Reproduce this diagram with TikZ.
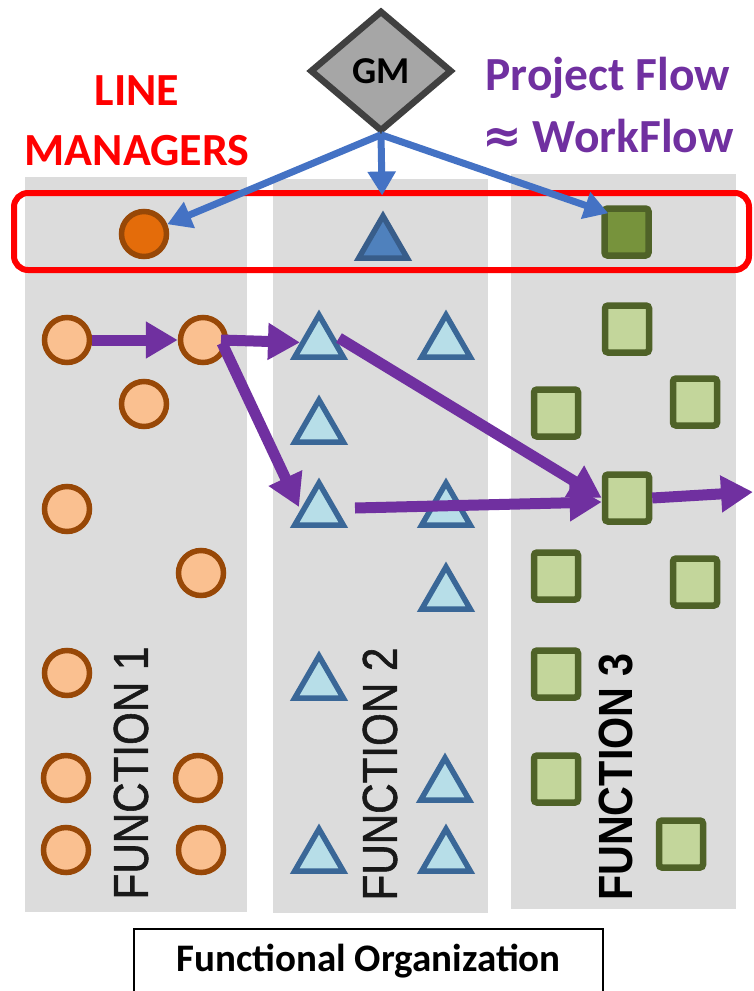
\documentclass[tikz,border=0pt]{standalone}
\usepackage{fontspec}
\usepackage{graphicx}
\usetikzlibrary{shapes.geometric,arrows.meta,calc}
\newfontfamily\calib{Carlito}
\newfontfamily\arialf{Liberation Sans}
\newfontfamily\arialmed[FakeBold=1.3]{Liberation Sans}
\newfontfamily\symf{DejaVu Sans}

\definecolor{colgray}{HTML}{DCDCDC}
\definecolor{ordark}{HTML}{E46C0A}
\definecolor{orlight}{HTML}{FAC090}
\definecolor{orborder}{HTML}{984807}
\definecolor{bdark}{HTML}{4F81BD}
\definecolor{bdarkborder}{HTML}{385D8A}
\definecolor{blight}{HTML}{B7DEE8}
\definecolor{bborder}{HTML}{3A6797}
\definecolor{gdark}{HTML}{77933C}
\definecolor{glight}{HTML}{C3D69B}
\definecolor{gborder}{HTML}{4F6228}
\definecolor{flowpurple}{HTML}{7030A0}
\definecolor{arrowblue}{HTML}{4472C4}
\definecolor{gmfill}{HTML}{A6A6A6}
\definecolor{gmborder}{HTML}{404040}

\tikzset{
  colbg/.style={fill=colgray, draw=none},
  worker/.style={circle, fill=orlight, draw=orborder, line width=5.5pt, minimum size=45pt, inner sep=0pt},
  tri/.style={regular polygon, regular polygon sides=3, fill=blight, draw=bborder, line width=5.5pt, minimum size=56pt, inner sep=0pt},
  sq/.style={rectangle, rounded corners=3pt, fill=glight, draw=gborder, line width=6.5pt, minimum width=44pt, minimum height=47pt, inner sep=0pt},
  flow/.style={draw=flowpurple, line width=11pt, -{Triangle[length=32pt,width=35pt]}},
  mgr/.style={draw=arrowblue, line width=7pt, -{Triangle[length=24pt,width=27pt]}},
  funclabel/.style={rotate=90, inner sep=0pt, text=black!90, font=\arialmed\fontsize{49}{49}\selectfont},
}

\begin{document}
\begin{tikzpicture}[x=1pt,y=-1pt]
\useasboundingbox (0,0) rectangle (753,991);

% function columns
\fill[colbg] (25,177) rectangle (247,912);
\fill[colbg] (273,179) rectangle (488,913);
\fill[colbg] (511,174) rectangle (736,909);

% line-manager band
\draw[red, line width=6pt, rounded corners=14pt] (14,193) rectangle (749,270);

% general manager
\node[diamond, draw=gmborder, fill=gmfill, line width=6.5pt, minimum width=142pt, minimum height=121pt, inner sep=0pt,
      font=\calib\bfseries\fontsize{38}{38}\selectfont] (GM) at (381,71) {GM};

% line managers
\node[worker, fill=ordark] (mC) at (144,234) {};
\node[tri, fill=bdark, draw=bdarkborder] (mT) at (383,244) {};
\node[sq, fill=gdark] (mS) at (626.5,232) {};

% function 1 staff
\node[worker] (c1) at (67,340) {};
\node[worker] (c2) at (203,340) {};
\node[worker] (c3) at (144,404) {};
\node[worker] (c4) at (67,509) {};
\node[worker] (c5) at (201,573) {};
\node[worker] (c6) at (67,673) {};
\node[worker] (c7) at (66,778) {};
\node[worker] (c8) at (198,778) {};
\node[worker] (c9) at (66,850) {};
\node[worker] (c10) at (201,850) {};

% function 2 staff
\node[tri] (t1) at (319,343) {};
\node[tri] (t2) at (446,343) {};
\node[tri] (t3) at (319,428) {};
\node[tri] (t4) at (319,511) {};
\node[tri] (t5) at (446,511) {};
\node[tri] (t6) at (446,595) {};
\node[tri] (t7) at (319,684) {};
\node[tri] (t8) at (445,786) {};
\node[tri] (t9) at (319,857) {};
\node[tri] (t10) at (446,857) {};

% function 3 staff
\node[sq] (s1) at (627,329) {};
\node[sq] (s2) at (695,402) {};
\node[sq] (s3) at (556,413) {};
\node[sq] (s4) at (627,498) {};
\node[sq] (s5) at (556,576) {};
\node[sq] (s6) at (695,582) {};
\node[sq] (s7) at (556,674) {};
\node[sq] (s8) at (556,779) {};
\node[sq] (s9) at (681,844) {};

% function labels
\node[funclabel] (f1) at (131,773) {\scalebox{0.86}[1]{FUNCTION 1}};
\node[funclabel] (f2) at (380,774) {\scalebox{0.86}[1]{FUNCTION 2}};
\node[funclabel, text=black, font=\arialf\bfseries\fontsize{48}{48}\selectfont] (f3) at (616,777) {\scalebox{0.86}[1]{FUNCTION 3}};

% command lines from the GM
\draw[mgr] (GM.south) -- (mC);
\draw[mgr, shorten >=16pt] (GM.south) -- (mT);
\draw[mgr] (GM.south) -- ($(mS.north west)+(7,8)$);

% project flow
\coordinate (exit) at (753,492);
\draw[flow] (c1) -- (c2);
\draw[flow] ($(c2.center)+(18,0)$) -- (t1);
\draw[flow] ($(c2.center)+(19,3)$) -- ($(t4.center)+(-20,-4)$);
\draw[flow] ($(t1.center)+(20,-5)$) -- (s4.west);
\draw[flow] ($(t4.center)+(36,-3)$) -- ($(s4.west)+(0,4)$);
\draw[flow] (s4.east) -- (exit);

% titles
\node[anchor=north, inner sep=0pt, align=center, text=red,
      font=\calib\bfseries\fontsize{46}{60}\selectfont] (lm) at (137,75) {LINE\\MANAGERS};
\node[anchor=north, inner sep=0pt, align=center, text=flowpurple,
      font=\calib\bfseries\fontsize{47.5}{62}\selectfont] (pf) at (608,57) {Project Flow\\{\symf\bfseries ≈} WorkFlow};

% caption box
\node[draw, line width=2pt, anchor=north, inner sep=0pt, minimum width=469pt, text height=42pt, text depth=30pt,
      font=\calib\bfseries\fontsize{39}{39}\selectfont] (cap) at (368.5,928) {Functional Organization};
\end{tikzpicture}
\end{document}
